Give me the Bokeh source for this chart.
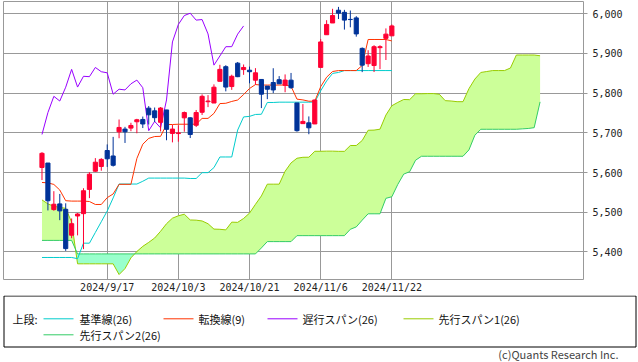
import numpy as np
from bokeh.plotting import figure
from bokeh.models import Range1d, FixedTicker, NumeralTickFormatter
from bokeh.layouts import column
from bokeh.embed import file_html
from bokeh.resources import INLINE
from bokeh.core.properties import value

# ---------------- data ----------------
tick_idx = [11, 23, 35, 47, 59]
tick_labels = ["2024/9/17", "2024/10/3", "2024/10/21", "2024/11/6", "2024/11/22"]
y_ticks = [5400, 5500, 5600, 5700, 5800, 5900, 6000]

open_ = [5612.7, 5623.9, 5506.7, 5521.0, 5507.3, 5442.1, 5490.5, 5496.4, 5557.5, 5603.3,
         5615.2, 5655.5, 5641.7, 5702.6, 5709.4, 5711.9, 5727.9, 5733.7, 5762.2, 5755.4,
         5726.5, 5757.7, 5698.5, 5698.2, 5737.8, 5737.8, 5719.1, 5751.8, 5778.4, 5775.1,
         5829.8, 5866.7, 5816.6, 5875.6, 5859.4, 5857.8, 5832.7, 5834.5, 5817.8, 5826.8,
         5833.9, 5819.7, 5832.7, 5775.3, 5723.2, 5725.2, 5722.4, 5864.9, 5947.2, 5976.8,
         6008.9, 6003.6, 5985.8, 5989.6, 5912.8, 5874.2, 5869.6, 5914.6, 5938.0, 5944.4]
high = [5651.4, 5623.9, 5553.0, 5546.1, 5522.5, 5484.2, 5497.9, 5560.4, 5600.7, 5636.3,
        5636.1, 5670.8, 5689.8, 5733.6, 5715.1, 5725.4, 5735.3, 5741.0, 5767.4, 5763.8,
        5765.1, 5757.7, 5720.0, 5718.8, 5753.7, 5739.3, 5757.6, 5796.8, 5795.0, 5822.1,
        5871.4, 5870.4, 5846.5, 5878.5, 5872.2, 5866.9, 5863.0, 5834.9, 5817.8, 5862.8,
        5842.9, 5847.2, 5850.9, 5775.3, 5772.5, 5741.4, 5783.4, 5936.1, 5983.8, 6012.5,
        6017.3, 6009.9, 6008.2, 5993.9, 5915.2, 5908.1, 5920.8, 5920.7, 5963.1, 5972.9]
low = [5581.1, 5504.5, 5503.7, 5480.0, 5402.6, 5434.5, 5441.7, 5407.0, 5535.5, 5601.7,
       5604.5, 5614.1, 5615.1, 5686.4, 5674.5, 5704.2, 5699.0, 5712.1, 5721.0, 5727.3,
       5703.5, 5681.3, 5676.0, 5677.6, 5702.8, 5686.9, 5714.6, 5745.0, 5764.8, 5775.1,
       5829.8, 5804.5, 5808.3, 5840.3, 5846.1, 5824.8, 5821.2, 5762.4, 5784.9, 5800.0,
       5823.1, 5802.3, 5811.3, 5702.9, 5723.2, 5696.5, 5722.1, 5864.9, 5947.2, 5976.8,
       5986.7, 5960.1, 5965.9, 5942.3, 5853.0, 5866.0, 5853.2, 5860.6, 5883.5, 5944.4]
close = [5648.4, 5528.9, 5520.1, 5503.4, 5408.4, 5471.1, 5495.5, 5554.1, 5595.8, 5626.0,
         5633.1, 5634.6, 5618.3, 5713.6, 5702.6, 5718.6, 5732.9, 5722.3, 5745.4, 5738.2,
         5762.5, 5708.8, 5709.5, 5699.9, 5751.1, 5695.9, 5751.1, 5792.0, 5780.1, 5815.0,
         5859.9, 5815.3, 5842.5, 5841.5, 5864.7, 5854.0, 5851.2, 5797.4, 5809.9, 5808.1,
         5823.5, 5832.9, 5813.7, 5705.5, 5728.8, 5712.7, 5782.8, 5929.0, 5973.1, 5995.5,
         6001.4, 5984.0, 5985.4, 5949.2, 5870.6, 5893.6, 5917.0, 5917.1, 5948.7, 5969.3]

# 転換線(9)
tenkan = [5575, 5574, 5570, 5556, 5529, 5528, 5528, 5528, 5527, 5519.5,
          5519.5, 5536.7, 5546, 5570.3, 5570.3, 5570.3, 5635.4, 5671.4, 5686, 5690.7,
          5691.2, 5721, 5721, 5721.7, 5721.7, 5721.7, 5721.7, 5736.4, 5736.4, 5749,
          5773.7, 5774.5, 5779.1, 5782.7, 5796.5, 5811.7, 5821.6, 5820.4, 5820.4, 5820.4,
          5820.4, 5820.4, 5817.3, 5784.9, 5783, 5779.7, 5779.7, 5816.3, 5840.2, 5854.5,
          5856.9, 5856.9, 5856.9, 5856.9, 5869.7, 5935.2, 5935.2, 5935.2, 5935.2, 5931.5]
# 基準線(26)
kijun = [5386, 5386, 5386, 5386, 5386, 5386, 5383, 5422, 5422, 5449,
         5476, 5503, 5536, 5571, 5571, 5571, 5571, 5578, 5586, 5586,
         5586, 5586, 5586, 5586, 5586, 5585, 5585, 5599.7, 5599.7, 5612.4,
         5639.2, 5639.2, 5639.2, 5707, 5740.1, 5741.5, 5746.3, 5746.8, 5776.5, 5776.5,
         5777.3, 5777.3, 5777.3, 5777.3, 5777.3, 5777.3, 5777.3, 5806, 5830.7, 5849.7,
         5852.1, 5856.9, 5856.9, 5856.9, 5856.9, 5856.9, 5856.9, 5856.9, 5856.9, 5856.9]
# 先行スパン1(26)  (index 0..84, runs 25 bars past the last candle)
span1 = [5531, 5521, 5515, 5512, 5510, 5475, 5370, 5370, 5370, 5370,
         5370, 5370, 5370, 5343, 5358, 5385, 5401, 5414, 5424, 5435,
         5452, 5471, 5485, 5491, 5495, 5480.5, 5480, 5478, 5471, 5457.5,
         5457, 5455.5, 5475, 5474.5, 5484.3, 5497.8, 5519.9, 5541, 5570.7, 5570.7,
         5570.7, 5603.2, 5624.2, 5636, 5638.4, 5638.6, 5653.5, 5653.5, 5653.9, 5653.9,
         5653.4, 5653.4, 5668.1, 5668.1, 5680.7, 5706.5, 5706.9, 5709.2, 5744.9, 5768.3,
         5776.6, 5784, 5783.6, 5798.5, 5798.5, 5798.9, 5798.9, 5797.3, 5781.1, 5780.2,
         5778.5, 5778.5, 5811.2, 5835.5, 5852.1, 5854.5, 5856.9, 5856.9, 5856.9, 5863.3,
         5896.1, 5896.1, 5896.1, 5896.1, 5894.2]
# 先行スパン2(26)
span2 = [5429, 5429, 5429, 5429, 5429, 5429, 5395, 5395, 5395, 5395,
         5395, 5395, 5395, 5395, 5395, 5395, 5395, 5395, 5395, 5395,
         5395, 5395, 5395, 5395, 5395, 5395, 5395, 5395, 5395, 5395,
         5395, 5395, 5395, 5395, 5395, 5395, 5395, 5410, 5426, 5426,
         5426, 5426, 5426, 5441, 5441, 5441, 5441, 5441, 5441, 5441,
         5441, 5441, 5457, 5463, 5480, 5496, 5496, 5496, 5535, 5539,
         5570, 5596, 5602, 5631, 5641, 5641, 5641, 5641, 5641, 5641,
         5641, 5641, 5657, 5694, 5709, 5709, 5709, 5709, 5709, 5709,
         5709, 5710, 5711, 5713, 5778]
chikou_shift = 25  # 遅行スパン(26): close plotted 25 bars back

legend_labels = ["基準線(26)", "転換線(9)", "遅行スパン(26)", "先行スパン1(26)", "先行スパン2(26)"]
legend_title = "上段:"
copyright_text = "(c)Quants Research Inc."

# ---------------- styles ----------------
C_UP, C_DOWN = "#ff0033", "#003399"
C_KIJUN, C_TENKAN, C_CHIKOU = "#00cccc", "#ff3300", "#9900ff"
C_SPAN1, C_SPAN2 = "#99cc00", "#33cc66"
C_CLOUD_UP, C_CLOUD_DN = "#ccff99", "#99ffcc"
GRID = "#999999"
JP_FONT = value("Noto Sans CJK JP")
W = 638

# ---------------- main chart ----------------
p = figure(width=W, height=295, title=None, x_range=Range1d(-6.49, 91.32),
           y_range=Range1d(5330.5, 6030.9), y_axis_location="right",
           toolbar_location=None, output_backend="svg",
           min_border_left=3, min_border_top=1, min_border_right=55, min_border_bottom=15,
           outline_line_color=GRID, outline_line_width=1,
           background_fill_color="white", border_fill_color="white")

p.xaxis.ticker = FixedTicker(ticks=tick_idx)
p.xaxis.major_label_overrides = {t: l for t, l in zip(tick_idx, tick_labels)}
p.xaxis.axis_line_color = None
p.xaxis.major_tick_line_color = None
p.xaxis.minor_tick_line_color = None
p.xaxis.major_tick_out = 0
p.xaxis.major_tick_in = 0
p.xaxis.major_label_standoff = 2
p.xaxis.major_label_text_font = "DejaVu Sans Mono"
p.xaxis.major_label_text_font_size = "10px"
p.xaxis.major_label_text_color = "#222222"

p.yaxis.ticker = FixedTicker(ticks=y_ticks)
p.yaxis.formatter = NumeralTickFormatter(format="0,0")
p.yaxis.axis_line_color = None
p.yaxis.minor_tick_line_color = None
p.yaxis.major_tick_line_color = GRID
p.yaxis.major_tick_out = 4
p.yaxis.major_tick_in = 0
p.yaxis.major_label_standoff = 5
p.yaxis.major_label_text_font = "DejaVu Sans Mono"
p.yaxis.major_label_text_font_size = "10px"
p.yaxis.major_label_text_color = "#222222"

p.xgrid.ticker = FixedTicker(ticks=tick_idx)
p.ygrid.ticker = FixedTicker(ticks=y_ticks)
p.grid.grid_line_color = GRID
p.grid.grid_line_width = 1

# cloud, with crossing points inserted so both colours meet exactly
s1 = np.array(span1, dtype=float)
s2 = np.array(span2, dtype=float)
xs = np.arange(len(s1), dtype=float)
cx, c1, c2 = [xs[0]], [s1[0]], [s2[0]]
for i in range(len(xs) - 1):
    d0, d1 = s1[i] - s2[i], s1[i + 1] - s2[i + 1]
    if d0 * d1 < 0:
        t = d0 / (d0 - d1)
        xc = xs[i] + t
        yc = s1[i] + t * (s1[i + 1] - s1[i])
        cx.append(xc); c1.append(yc); c2.append(yc)
    cx.append(xs[i + 1]); c1.append(s1[i + 1]); c2.append(s2[i + 1])
cx, c1, c2 = np.array(cx), np.array(c1), np.array(c2)
top = np.maximum(c1, c2)
p.varea(x=cx, y1=c2, y2=top, fill_color=C_CLOUD_UP)
p.varea(x=cx, y1=c1, y2=top, fill_color=C_CLOUD_DN)
p.line(xs, s1, line_color=C_SPAN1, line_width=1)
p.line(xs, s2, line_color=C_SPAN2, line_width=1)

idx = np.arange(len(close))
p.line(idx, kijun, line_color=C_KIJUN, line_width=1)
p.line(idx, tenkan, line_color=C_TENKAN, line_width=1)
p.line(idx[chikou_shift:] - chikou_shift, close[chikou_shift:], line_color=C_CHIKOU, line_width=1)

o = np.array(open_); c = np.array(close)
colors = [C_UP if cc >= oo else C_DOWN for oo, cc in zip(o, c)]
p.segment(x0=idx, y0=high, x1=idx, y1=low, line_color=colors, line_width=1)
p.vbar(x=idx, width=0.7, top=np.maximum(o, c), bottom=np.minimum(o, c),
       fill_color=colors, line_color=colors, line_width=1)

# ---------------- legend / footer ----------------
LH = 67
lf = figure(width=W, height=LH, title=None, x_range=Range1d(0, W), y_range=Range1d(LH, 0),
            toolbar_location=None, output_backend="svg", x_axis_type=None, y_axis_type=None,
            min_border=0, min_border_left=0, min_border_right=0, min_border_top=0,
            min_border_bottom=0, outline_line_color=None,
            background_fill_color="white", border_fill_color="white")
lf.grid.visible = False

for fig in (p, lf):
    try:
        fig.frame_align = False
    except Exception:
        pass

lf.quad(left=3.5, right=635.5, top=0.5, bottom=51.5, fill_color=None,
        line_color="black", line_width=1)

row1, row2 = 23.3, 39.3
seg_x0 = [43, 163, 267, 403, 43]
seg_x1 = [73, 193, 297, 433, 73]
seg_y = [row1, row1, row1, row1, row2]
txt_x = [79, 198, 302, 438, 79]
lf.segment(x0=seg_x0, y0=seg_y, x1=seg_x1, y1=seg_y,
           line_color=[C_KIJUN, C_TENKAN, C_CHIKOU, C_SPAN1, C_SPAN2], line_width=1)
lf.text(x=txt_x, y=seg_y, text=legend_labels, text_font=JP_FONT, text_font_size="11px",
        text_baseline="middle", text_align="left", text_color="#111111")
lf.text(x=[12], y=[row1], text=[legend_title], text_font=JP_FONT, text_font_size="11px",
        text_baseline="middle", text_align="left", text_color="#111111")
lf.text(x=[618], y=[58.0], text=[copyright_text], text_font=JP_FONT, text_font_size="11px",
        text_baseline="alphabetic", text_align="right", text_color="#444444")

layout = column(p, lf, spacing=0)
open("out.html", "w").write(file_html(layout, INLINE))
